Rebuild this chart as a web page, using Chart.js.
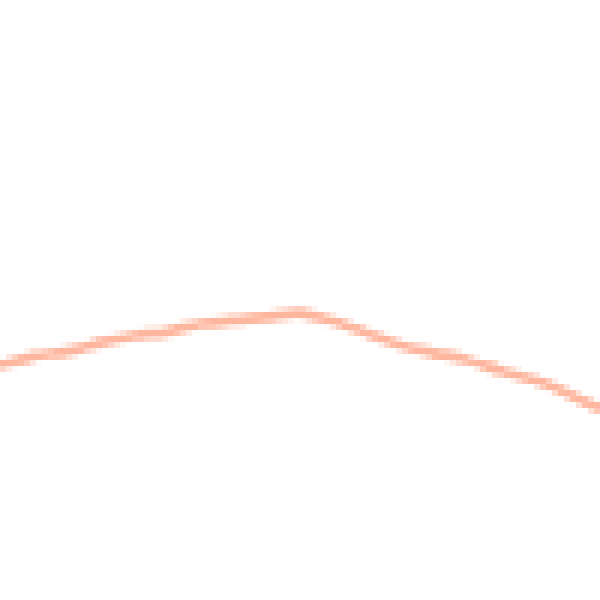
<!DOCTYPE html>
<html>
<head>
<meta charset="utf-8">
<script src="https://cdn.jsdelivr.net/npm/chart.js@4/dist/chart.umd.min.js"></script>
<style>
  html, body { margin: 0; padding: 0; background: #ffffff; overflow: hidden; }
  #wrap { width: 600px; height: 600px; }
  #c { width: 600px !important; height: 600px !important; image-rendering: pixelated; display: block; }
</style>
</head>
<body>
<div id="wrap"><canvas id="c" width="100" height="100" style="width:600px;height:600px"></canvas></div>
<script>
const categories = ["1","2","3","4","5","6","7","8","9","10","11","12","13","14","15","16","17","18","19"];
const seriesValues = [39.0, 40.7, 41.3, 42.8, 44.0, 44.7, 46.0, 46.7, 47.2, 47.9, 46.5, 44.5, 42.5, 41.2, 40.0, 38.3, 36.7, 34.5, 31.7];
const yMin = 0;
const yMax = 100;

new Chart(document.getElementById('c'), {
  type: 'line',
  data: {
    labels: categories,
    datasets: [{
      data: seriesValues,
      borderColor: 'rgb(255,182,158)',
      borderWidth: 1.7,
      pointRadius: 0,
      fill: false,
      tension: 0.2
    }]
  },
  options: {
    responsive: false,
    devicePixelRatio: 1,
    animation: false,
    layout: { padding: 0 },
    plugins: { legend: { display: false }, tooltip: { enabled: false } },
    scales: {
      x: { display: false, offset: false },
      y: { display: false, min: yMin, max: yMax }
    }
  }
});
</script>
</body>
</html>
